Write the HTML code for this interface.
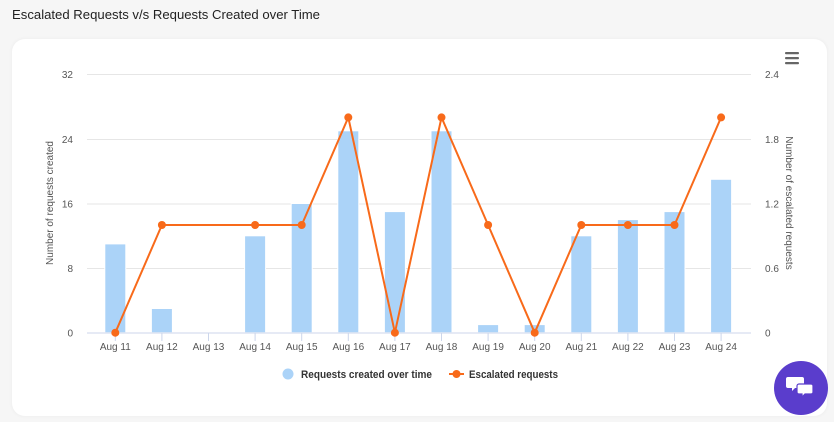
<!DOCTYPE html>
<html><head><meta charset="utf-8"><style>
html,body{margin:0;padding:0;background:#f6f6f6;}
body{width:834px;height:422px;overflow:hidden;position:relative;font-family:"Liberation Sans",sans-serif;}
.card{position:absolute;left:12px;top:39px;width:815px;height:377px;background:#fff;border-radius:13px;box-shadow:0 0 4px rgba(0,0,0,0.05);}
svg{position:absolute;left:0;top:0;}
.chat{position:absolute;left:774px;top:361px;width:54px;height:54px;border-radius:50%;background:#5a3dcc;}
</style></head><body>
<div class="card"></div>
<svg width="834" height="422" viewBox="0 0 834 422" font-family="Liberation Sans, sans-serif">
<text x="12" y="19" font-size="13" fill="#222" textLength="308" lengthAdjust="spacingAndGlyphs">Escalated Requests v/s Requests Created over Time</text>
<g stroke="#e6e6e6" stroke-width="1">
<line x1="87" y1="74.5" x2="751" y2="74.5"/>
<line x1="87" y1="139.5" x2="751" y2="139.5"/>
<line x1="87" y1="204" x2="751" y2="204"/>
<line x1="87" y1="268.5" x2="751" y2="268.5"/>
</g>
<g fill="#abd3f8" stroke="#fff" stroke-width="1">
<rect x="104.8" y="243.9" width="21" height="88.8"/>
<rect x="151.4" y="308.5" width="21" height="24.2"/>
<rect x="244.6" y="235.8" width="21" height="96.9"/>
<rect x="291.2" y="203.5" width="21" height="129.2"/>
<rect x="337.8" y="130.8" width="21" height="201.9"/>
<rect x="384.4" y="211.6" width="21" height="121.1"/>
<rect x="431" y="130.8" width="21" height="201.9"/>
<rect x="477.6" y="324.6" width="21" height="8.1"/>
<rect x="524.2" y="324.6" width="21" height="8.1"/>
<rect x="570.8" y="235.8" width="21" height="96.9"/>
<rect x="617.4" y="219.6" width="21" height="113.1"/>
<rect x="664" y="211.6" width="21" height="121.1"/>
<rect x="710.6" y="179.3" width="21" height="153.4"/>
</g>
<line x1="87" y1="333" x2="751" y2="333" stroke="#ccd6eb" stroke-width="1"/>
<g stroke="#ccd6eb" stroke-width="1">
<line x1="115.3" y1="333" x2="115.3" y2="341"/>
<line x1="161.9" y1="333" x2="161.9" y2="341"/>
<line x1="208.5" y1="333" x2="208.5" y2="341"/>
<line x1="255.1" y1="333" x2="255.1" y2="341"/>
<line x1="301.7" y1="333" x2="301.7" y2="341"/>
<line x1="348.3" y1="333" x2="348.3" y2="341"/>
<line x1="394.9" y1="333" x2="394.9" y2="341"/>
<line x1="441.5" y1="333" x2="441.5" y2="341"/>
<line x1="488.1" y1="333" x2="488.1" y2="341"/>
<line x1="534.7" y1="333" x2="534.7" y2="341"/>
<line x1="581.3" y1="333" x2="581.3" y2="341"/>
<line x1="627.9" y1="333" x2="627.9" y2="341"/>
<line x1="674.5" y1="333" x2="674.5" y2="341"/>
<line x1="721.1" y1="333" x2="721.1" y2="341"/>
</g>
<g font-size="10" fill="#555" text-anchor="middle">
<text x="115.3" y="350">Aug 11</text>
<text x="161.9" y="350">Aug 12</text>
<text x="208.5" y="350">Aug 13</text>
<text x="255.1" y="350">Aug 14</text>
<text x="301.7" y="350">Aug 15</text>
<text x="348.3" y="350">Aug 16</text>
<text x="394.9" y="350">Aug 17</text>
<text x="441.5" y="350">Aug 18</text>
<text x="488.1" y="350">Aug 19</text>
<text x="534.7" y="350">Aug 20</text>
<text x="581.3" y="350">Aug 21</text>
<text x="627.9" y="350">Aug 22</text>
<text x="674.5" y="350">Aug 23</text>
<text x="721.1" y="350">Aug 24</text>
</g>
<g font-size="10" fill="#555" text-anchor="end">
<text x="73" y="78">32</text>
<text x="73" y="143">24</text>
<text x="73" y="207.5">16</text>
<text x="73" y="272">8</text>
<text x="73" y="336.5">0</text>
</g>
<g font-size="10" fill="#555" text-anchor="start">
<text x="765" y="78">2.4</text>
<text x="765" y="143">1.8</text>
<text x="765" y="207.5">1.2</text>
<text x="765" y="272">0.6</text>
<text x="765" y="336.5">0</text>
</g>
<text transform="translate(53,203) rotate(-90)" font-size="10" fill="#555" text-anchor="middle">Number of requests created</text>
<text transform="translate(786,203) rotate(90)" font-size="10" fill="#555" text-anchor="middle">Number of escalated requests</text>
<polyline fill="none" stroke="#f86a1a" stroke-width="2" stroke-linejoin="round" points="115.3,332.7 161.9,225 208.5,225 255.1,225 301.7,225 348.3,117.4 394.9,332.7 441.5,117.4 488.1,225 534.7,332.7 581.3,225 627.9,225 674.5,225 721.1,117.4"/>
<g fill="#f86a1a">
<circle cx="115.3" cy="332.7" r="4"/>
<circle cx="161.9" cy="225" r="4"/>
<circle cx="255.1" cy="225" r="4"/>
<circle cx="301.7" cy="225" r="4"/>
<circle cx="348.3" cy="117.4" r="4"/>
<circle cx="394.9" cy="332.7" r="4"/>
<circle cx="441.5" cy="117.4" r="4"/>
<circle cx="488.1" cy="225" r="4"/>
<circle cx="534.7" cy="332.7" r="4"/>
<circle cx="581.3" cy="225" r="4"/>
<circle cx="627.9" cy="225" r="4"/>
<circle cx="674.5" cy="225" r="4"/>
<circle cx="721.1" cy="117.4" r="4"/>
</g>
<g fill="#666">
<rect x="785" y="52" width="14" height="2.2" rx="1"/>
<rect x="785" y="57" width="14" height="2.2" rx="1"/>
<rect x="785" y="62" width="14" height="2.2" rx="1"/>
</g>
<circle cx="288" cy="374" r="5.5" fill="#abd3f8"/>
<text x="301" y="378" font-size="11" font-weight="bold" fill="#333" textLength="131" lengthAdjust="spacingAndGlyphs">Requests created over time</text>
<line x1="449" y1="374" x2="464" y2="374" stroke="#f86a1a" stroke-width="2"/>
<circle cx="456.5" cy="374" r="4" fill="#f86a1a"/>
<text x="469" y="378" font-size="11" font-weight="bold" fill="#333" textLength="89" lengthAdjust="spacingAndGlyphs">Escalated requests</text>
</svg>
<div class="chat"></div>
<svg width="834" height="422" viewBox="0 0 834 422">
<path d="M788 377 h14 a2 2 0 0 1 2 2 v7 a2 2 0 0 1 -2 2 h-7 l-3 3 v-3 h-4 a2 2 0 0 1 -2 -2 v-7 a2 2 0 0 1 2 -2z" fill="#fff"/>
<path d="M799 384 h12 a2 2 0 0 1 2 2 v6 a2 2 0 0 1 -2 2 h-6 l-3 3 v-3 h-3 a2 2 0 0 1 -2 -2 v-6 a2 2 0 0 1 2 -2z" fill="#fff" stroke="#5a3dcc" stroke-width="1.2"/>
</svg>
</body></html>
